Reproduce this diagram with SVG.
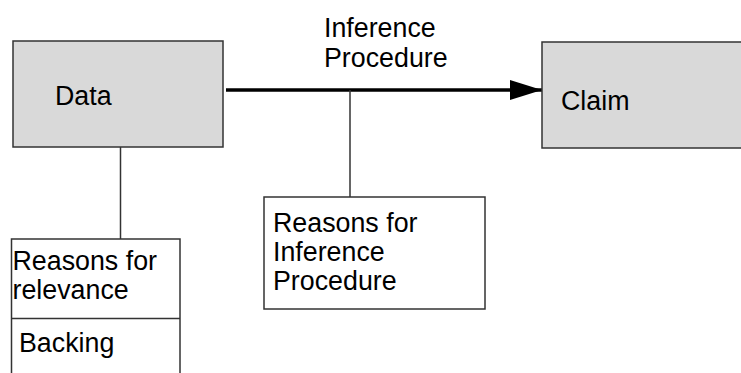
<svg xmlns="http://www.w3.org/2000/svg" width="741" height="373" viewBox="0 0 741 373">
<style>
text{font-family:"Liberation Sans",Arial,sans-serif;font-size:26.8px;fill:#000}
.grey{fill:#d9d9d9;stroke:#333;stroke-width:1.5}
.white{fill:#fff;stroke:#333;stroke-width:1.5}
.thin{stroke:#333;stroke-width:1.5;fill:none}
</style>
<defs>
<marker id="ah" viewBox="0 0 32 20" refX="32" refY="10" markerUnits="userSpaceOnUse" markerWidth="32" markerHeight="20" orient="auto">
<path d="M0,0 L32,10 L0,20 Z" fill="#000"/>
</marker>
</defs>
<rect width="741" height="373" fill="#fff"/>
<g id="connectors">
<line x1="226" y1="90" x2="542" y2="90" stroke="#000" stroke-width="3.5" marker-end="url(#ah)"/>
<line class="thin" x1="350" y1="90" x2="350" y2="197"/>
<line class="thin" x1="120.5" y1="147" x2="120.5" y2="239"/>
</g>
<g id="data">
<rect class="grey" x="13" y="41" width="210" height="106"/>
<text x="55" y="105">Data</text>
</g>
<g id="claim">
<rect class="grey" x="542" y="42" width="210" height="106"/>
<text x="561" y="110">Claim</text>
</g>
<g id="inference-label">
<text x="324" y="36.5">Inference</text>
<text x="324" y="66.5">Procedure</text>
</g>
<g id="reasons-inference">
<rect class="white" x="264" y="197" width="221" height="112"/>
<text x="273" y="231.5">Reasons for</text>
<text x="273" y="261">Inference</text>
<text x="273" y="290">Procedure</text>
</g>
<g id="reasons-relevance">
<rect class="white" x="11.5" y="239" width="168.5" height="145"/>
<line class="thin" x1="11.5" y1="318.5" x2="180" y2="318.5"/>
<text x="12.5" y="270">Reasons for</text>
<text x="12.5" y="298.5">relevance</text>
<text x="19" y="352">Backing</text>
</g>
</svg>
